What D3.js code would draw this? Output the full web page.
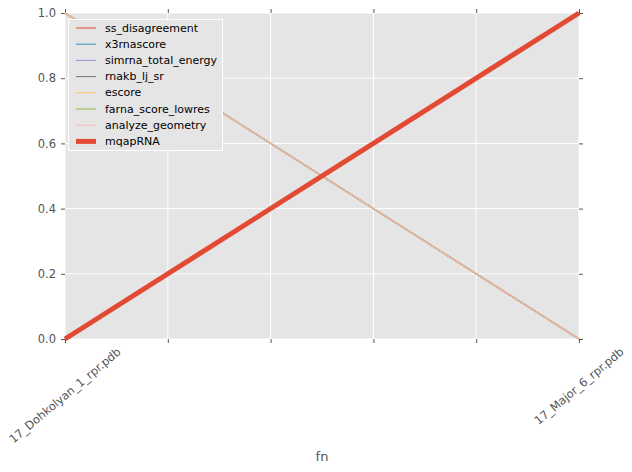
<!DOCTYPE html>
<html><head><meta charset="utf-8">
<script src="https://cdn.jsdelivr.net/npm/d3@7/dist/d3.min.js"></script>
<style>body{margin:0;background:#fff}svg{display:block}text{font-family:"DejaVu Sans",sans-serif}</style>
</head><body>
<svg id="c" width="632" height="472"></svg>
<script>
const categories = ["17_Dohkolyan_1_rpr.pdb", "17_Major_6_rpr.pdb"];
const seriesNames = ["ss_disagreement","x3rnascore","simrna_total_energy","rnakb_lj_sr","escore","farna_score_lowres","analyze_geometry","mqapRNA"];
const seriesColors = ["#E24A33","#348ABD","#988ED5","#777777","#FBC15E","#8EBA42","#FFB5B8","#E24A33"];
const ss_disagreement = [1, 0];
const x3rnascore = [1, 0];
const simrna_total_energy = [1, 0];
const rnakb_lj_sr = [1, 0];
const escore = [1, 0];
const farna_score_lowres = [1, 0];
const analyze_geometry = [1, 0];
const mqapRNA = [0, 1];
const seriesValues = [ss_disagreement,x3rnascore,simrna_total_energy,rnakb_lj_sr,escore,farna_score_lowres,analyze_geometry,mqapRNA];
const yTicks = [0, 0.2, 0.4, 0.6, 0.8, 1.0];
const xTicks = [0, 0.2, 0.4, 0.6, 0.8, 1.0];
const xLabel = "fn";

const svg = d3.select("#c");
const L = 65, R = 579, T = 13, B = 339;
const x = d3.scaleLinear().domain([0, 1]).range([L, R]);
const y = d3.scaleLinear().domain([0, 1]).range([B, T]);

svg.append("rect").attr("x", L).attr("y", T).attr("width", R - L).attr("height", B - T).attr("fill", "#E5E5E5");

// grid
svg.append("g").selectAll("line").data(xTicks).join("line")
  .attr("x1", d => x(d)).attr("x2", d => x(d)).attr("y1", T).attr("y2", B)
  .attr("stroke", "#fff").attr("stroke-width", 1);
svg.append("g").selectAll("line").data(yTicks).join("line")
  .attr("x1", L).attr("x2", R).attr("y1", d => y(d)).attr("y2", d => y(d))
  .attr("stroke", "#fff").attr("stroke-width", 1);

// axes
const tickFmt = d3.format(".1f");
const yAx = svg.append("g").attr("transform", `translate(${L},0)`)
  .call(d3.axisLeft(y).tickValues(yTicks).tickFormat(tickFmt).tickSize(4).tickPadding(5));
const yAxR = svg.append("g").attr("transform", `translate(${R},0)`)
  .call(d3.axisRight(y).tickValues(yTicks).tickFormat("").tickSize(4));
const xAx = svg.append("g").attr("transform", `translate(0,${B})`)
  .call(d3.axisBottom(x).tickValues(xTicks).tickFormat("").tickSize(4));
const xAxT = svg.append("g").attr("transform", `translate(0,${T})`)
  .call(d3.axisTop(x).tickValues(xTicks).tickFormat("").tickSize(4));
[yAx, yAxR, xAx, xAxT].forEach(g => {
  g.select(".domain").remove();
  g.selectAll(".tick line").attr("stroke", "#555");
  g.selectAll("text").attr("fill", "#555").style("font-size", "11.5px").style("font-family", "DejaVu Sans");
});

// lines
const line = d3.line().x((d, i) => x(i)).y(d => y(d));
seriesValues.forEach((vals, k) => {
  const thick = seriesNames[k] === "mqapRNA";
  svg.append("path").datum(vals).attr("d", line)
    .attr("fill", "none").attr("stroke", seriesColors[k])
    .attr("stroke-width", thick ? 5 : 1.1);
});

// x tick labels rotated
categories.forEach((c, i) => {
  const t = svg.append("text").text(c).attr("fill", "#555")
    .style("font-size", "11.5px").attr("text-anchor", "middle").attr("dominant-baseline", "central");
  const w = t.node().getComputedTextLength();
  const h = 13;
  const a = 40 * Math.PI / 180;
  const bh = w * Math.sin(a) + h * Math.cos(a);
  const cx = x(i), cy = B + 6 + bh / 2;
  t.attr("transform", `translate(${cx},${cy}) rotate(-40)`);
});

svg.append("text").attr("x", (L + R) / 2).attr("y", 461).attr("text-anchor", "middle")
  .attr("fill", "#555").style("font-size", "13px").text(xLabel);

// legend
const lg = svg.append("g");
lg.append("rect").attr("x", 68.5).attr("y", 19.5).attr("width", 154).attr("height", 131)
  .attr("fill", "#E5E5E5").attr("stroke", "#fff").attr("stroke-width", 1);
seriesNames.forEach((n, k) => {
  const yy = 28 + k * 16.2;
  const thick = n === "mqapRNA";
  lg.append("line").attr("x1", 76).attr("x2", 96).attr("y1", yy).attr("y2", yy)
    .attr("stroke", seriesColors[k]).attr("stroke-width", thick ? 5 : 1);
  lg.append("text").attr("x", 105).attr("y", yy).attr("dominant-baseline", "central")
    .attr("fill", "#000").style("font-size", "11px").text(n);
});
</script>
</body></html>
